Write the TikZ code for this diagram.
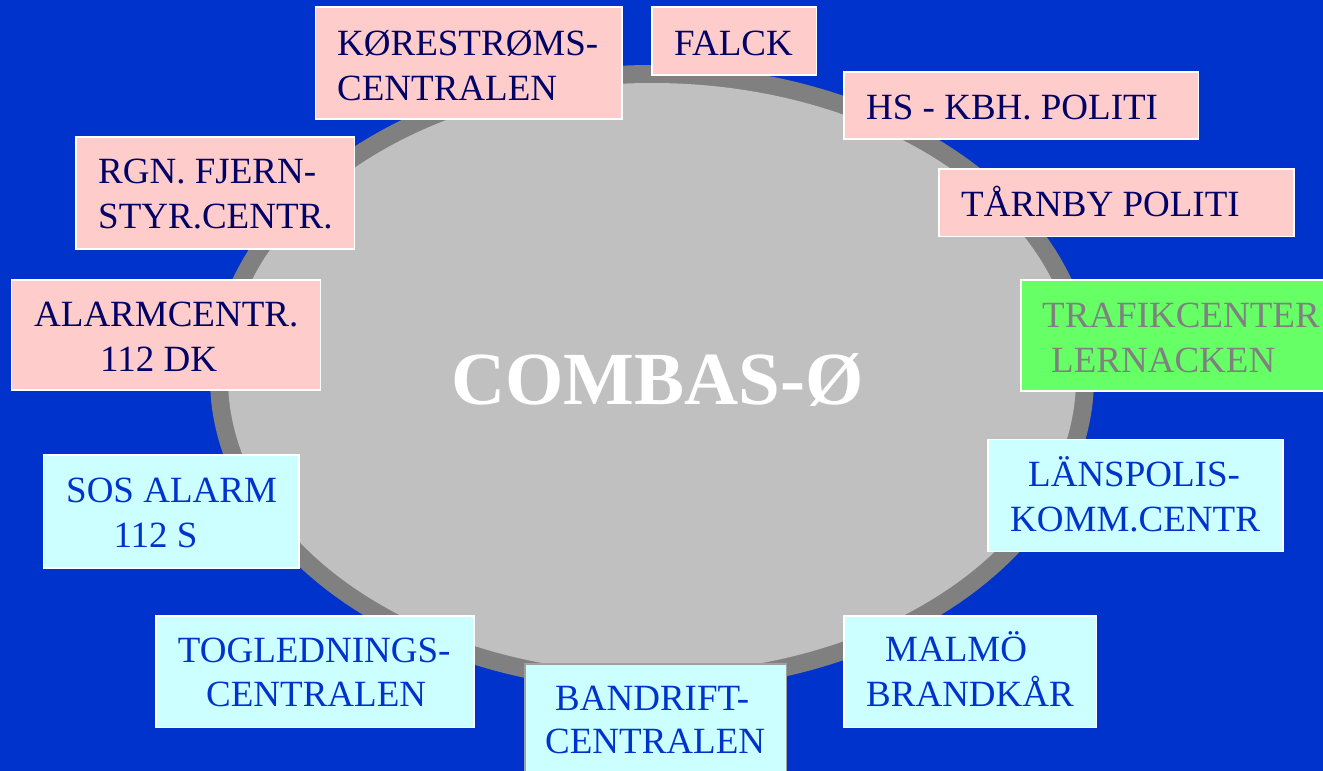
\documentclass[tikz,border=0pt]{standalone}
\usepackage{fontspec}
\setmainfont{Liberation Serif}
\definecolor{bg}{HTML}{0033CC}
\definecolor{rim}{HTML}{808080}
\definecolor{disc}{HTML}{C0C0C0}
\definecolor{pinkf}{HTML}{FFCCCC}
\definecolor{cyanf}{HTML}{CCFFFF}
\definecolor{greenf}{HTML}{66FF66}
\definecolor{navy}{HTML}{000066}
\definecolor{bluet}{HTML}{0033CC}
\definecolor{greyt}{HTML}{808080}
\definecolor{edgegrey}{HTML}{A0A0A0}
\tikzset{
  box/.style={draw=white, line width=1.5pt, inner sep=0pt, rectangle},
  pinkbox/.style={box, fill=pinkf},
  cyanbox/.style={box, fill=cyanf},
  greenbox/.style={box, fill=greenf},
  lbl/.style={inner sep=0pt, anchor=base west, font=\fontsize{37}{45}\selectfont},
  pinklbl/.style={lbl, text=navy},
  cyanlbl/.style={lbl, text=bluet},
  greenlbl/.style={lbl, text=greyt},
  titlelbl/.style={inner sep=0pt, anchor=base west, text=white, font=\bfseries\fontsize{75}{80}\selectfont}
}
\newcommand\placebox[6]{\node[#2, minimum width={#5-#3}, minimum height={#6-#4}] (#1) at ({(#3+#5)/2},{(#4+#6)/2}) {};}
\begin{document}
\begin{tikzpicture}[x=1pt,y=-1pt]
\useasboundingbox (0,0) rectangle (1323,771);
\fill[bg] (0,0) rectangle (1323,771);
\fill[rim] (652,378) ellipse [x radius=442, y radius=313];
\fill[disc] (652,378) ellipse [x radius=424, y radius=295];
\node[titlelbl] (title) at (451,404) {COMBAS-Ø};

% pink boxes
\placebox{kor}{pinkbox}{315.5}{7}{622}{119}
\node[pinklbl] (kor1) at (337,55) {KØRESTRØMS-};
\node[pinklbl] (kor2) at (337,100) {CENTRALEN};

\placebox{falck}{pinkbox}{652}{7}{816.5}{75}
\node[pinklbl] (falck1) at (674,55) {FALCK};

\placebox{hs}{pinkbox}{844}{72}{1198.5}{139}
\node[pinklbl] (hs1) at (866,119) {HS - KBH. POLITI};

\placebox{tarnby}{pinkbox}{939}{169}{1294}{236.5}
\node[pinklbl] (tarnby1) at (961,216.7) {TÅRNBY POLITI};

\placebox{rgn}{pinkbox}{76}{137}{354.5}{249}
\node[pinklbl] (rgn1) at (98,183.3) {RGN. FJERN-};
\node[pinklbl] (rgn2) at (98,228.3) {STYR.CENTR.};

\placebox{alarm}{pinkbox}{11.7}{280}{320.7}{390}
\node[pinklbl] (alarm1) at (34,326.7) {ALARMCENTR.};
\node[pinklbl] (alarm2) at (100,371.7) {112 DK};

% green box
\placebox{trafik}{greenbox}{1021}{280}{1340}{391}
\node[greenlbl] (trafik1) at (1042,327) {TRAFIKCENTER};
\node[greenlbl] (trafik2) at (1051,372) {LERNACKEN};

% cyan boxes
\placebox{lans}{cyanbox}{988}{439.5}{1283}{551.5}
\node[cyanlbl] (lans1) at (1028,486.7) {LÄNSPOLIS-};
\node[cyanlbl] (lans2) at (1010,531.7) {KOMM.CENTR};

\placebox{malmo}{cyanbox}{844}{616}{1096.5}{727.5}
\node[cyanlbl] (malmo1) at (885,661.7) {MALMÖ};
\node[cyanlbl] (malmo2) at (866,706.7) {BRANDKÅR};

\placebox{bandrift}{cyanbox, draw=edgegrey}{525}{664}{786.5}{780}
\node[cyanlbl] (band1) at (555,710.7) {BANDRIFT-};
\node[cyanlbl] (band2) at (545,753) {CENTRALEN};

\placebox{togl}{cyanbox}{156}{616}{474}{727.5}
\node[cyanlbl] (togl1) at (177.7,662.3) {TOGLEDNINGS-};
\node[cyanlbl] (togl2) at (206,706.7) {CENTRALEN};

\placebox{sos}{cyanbox}{43.5}{455}{299}{568}
\node[cyanlbl] (sos1) at (66,502.3) {SOS ALARM};
\node[cyanlbl] (sos2) at (113.3,547.7) {112 S};
\end{tikzpicture}
\end{document}
